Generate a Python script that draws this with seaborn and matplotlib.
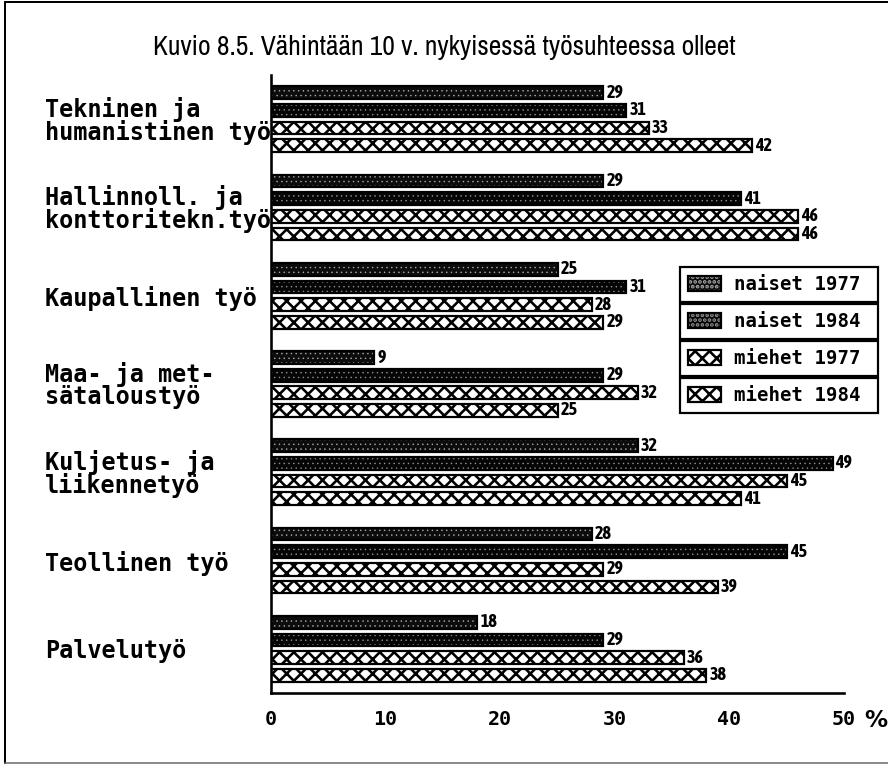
import matplotlib
matplotlib.use("Agg")
import matplotlib.pyplot as plt
import seaborn as sns
import pandas as pd
from matplotlib import font_manager
from matplotlib.patches import Patch
from matplotlib.lines import Line2D
from matplotlib.colors import to_rgba

# ---------------- data ----------------
categories = [
    "Tekninen ja\nhumanistinen työ",
    "Hallinnoll. ja\nkonttoritekn.työ",
    "Kaupallinen työ",
    "Maa- ja met-\nsätaloustyö",
    "Kuljetus- ja\nliikennetyö",
    "Teollinen työ",
    "Palvelutyö",
]
series = ["naiset 1977", "naiset 1984", "miehet 1977", "miehet 1984"]
naiset_1977 = [29, 29, 25, 9, 32, 28, 18]
naiset_1984 = [31, 41, 31, 29, 49, 45, 29]
miehet_1977 = [33, 46, 28, 32, 45, 29, 36]
miehet_1984 = [42, 46, 29, 25, 41, 39, 38]
x_ticks = [0, 10, 20, 30, 40, 50]
title = "Kuvio 8.5. Vähintään 10 v. nykyisessä työsuhteessa olleet"
unit_label = "%"

values = {
    "naiset 1977": naiset_1977,
    "naiset 1984": naiset_1984,
    "miehet 1977": miehet_1977,
    "miehet 1984": miehet_1984,
}
rows = []
for s in series:
    for c, v in zip(categories, values[s]):
        rows.append({"category": c, "series": s, "value": v})
df = pd.DataFrame(rows)

# ---------------- style ----------------
W, H, DPI = 888, 765, 86
def pt(px):
    return px * 72.0 / DPI

sns.set_theme(style="white")
plt.rcParams["font.family"] = ["DejaVu Sans"]
for k in ("text.color", "axes.labelcolor", "xtick.color", "ytick.color"):
    plt.rcParams[k] = "black"

# look for a condensed / narrow family (prefer one with a bold face)
narrow_fonts = [f for f in font_manager.fontManager.ttflist
                if "Narrow" in f.name or "Condensed" in f.name]
narrow_name = None
narrow_bold_name = None
for f in sorted(narrow_fonts, key=lambda f: f.name):
    if narrow_name is None:
        narrow_name = f.name
    w = f.weight if isinstance(f.weight, int) else (700 if "bold" in str(f.weight).lower() else 400)
    if w >= 700 and narrow_bold_name is None:
        narrow_bold_name = f.name
if narrow_name:
    narrow = [narrow_name, "DejaVu Sans"]
    title_px = 27.5
else:
    narrow = ["DejaVu Sans"]
    title_px = 21
if narrow_bold_name:
    narrow_b = [narrow_bold_name, "DejaVu Sans"]
    val_px = 18
else:
    narrow_b = ["DejaVu Sans"]
    val_px = 14

styles = {
    "naiset 1977": dict(face="#0c0c0c", hatch="...", hcolor="#a8a8a8", hlw=0.5),
    "naiset 1984": dict(face="#050505", hatch="...", hcolor="#909090", hlw=0.5),
    "miehet 1977": dict(face="white", hatch="xx", hcolor="black", hlw=pt(2.6)),
    "miehet 1984": dict(face="white", hatch="xx", hcolor="black", hlw=pt(2.6)),
}
plt.rcParams["hatch.linewidth"] = pt(2.6)

def style_patch(p, st):
    p.set_facecolor(st["face"])
    p.set_edgecolor("black")
    p.set_linewidth(pt(2.2))
    p.set_hatch(st["hatch"])
    p._hatch_color = to_rgba(st["hcolor"])
    if hasattr(p, "set_hatch_linewidth"):
        p.set_hatch_linewidth(st["hlw"])

fig = plt.figure(figsize=(W / DPI, H / DPI), dpi=DPI)
fig.patch.set_facecolor("white")
ax = fig.add_axes([271 / W, 1 - 693 / H, (844 - 271) / W, (693 - 75) / H])

sns.barplot(
    data=df, y="category", x="value", hue="series", orient="h",
    order=categories, hue_order=series, palette=["black"] * 4,
    saturation=1, width=0.8, gap=0.28, legend=False, ax=ax,
)

for cont, s in zip(ax.containers, series):
    for p in cont:
        style_patch(p, styles[s])
    ax.bar_label(cont, labels=[f"{v:.0f}" for v in cont.datavalues],
                 padding=pt(3), fontsize=pt(val_px), fontweight="bold",
                 family=narrow_b, color="black")

ax.set_xlim(0, 50)
ax.set_xticks(x_ticks)
ax.set_xlabel("")
ax.set_ylabel("")
sns.despine(ax=ax)
for side in ("left", "bottom"):
    ax.spines[side].set_linewidth(pt(2.6))
    ax.spines[side].set_color("black")

ax.tick_params(axis="x", direction="out", length=pt(11), width=pt(2.4),
               color="black", pad=pt(6), labelsize=pt(20))
for lab in ax.get_xticklabels():
    lab.set_family("DejaVu Sans Mono")
    lab.set_fontweight("bold")

ax.tick_params(axis="y", length=0, pad=pt(226), labelsize=pt(23.5))
for lab in ax.get_yticklabels():
    lab.set_family("DejaVu Sans Mono")
    lab.set_fontweight("bold")
    lab.set_horizontalalignment("left")
    lab.set_multialignment("left")
    lab.set_linespacing(0.92)

fig.text(876 / W, 1 - 720 / H, unit_label, ha="center", va="center",
         fontsize=pt(23), fontweight="bold")

fig.text(444 / W, 1 - 47 / H, title, ha="center", va="center",
         fontsize=pt(title_px), family=narrow)

# ---------------- legend: four stacked boxes ----------------
box_top, box_h = 266, 37
for i, s in enumerate(series):
    st = styles[s]
    h = Patch(facecolor=st["face"], edgecolor="black", hatch=st["hatch"],
              linewidth=pt(2.2))
    h._hatch_color = to_rgba(st["hcolor"])
    if hasattr(h, "set_hatch_linewidth"):
        h.set_hatch_linewidth(st["hlw"])
    y0 = 1 - (box_top + box_h * (i + 1)) / H
    leg = fig.legend(
        handles=[h], labels=[s], loc="center left",
        bbox_to_anchor=(680 / W, y0, (878 - 680) / W, box_h / H),
        mode="expand", borderaxespad=0, frameon=True, fancybox=False,
        edgecolor="black", framealpha=1, borderpad=0.42,
        handlelength=1.75, handleheight=0.9, handletextpad=0.65,
        prop={"family": "DejaVu Sans Mono", "weight": "bold", "size": pt(19)},
    )
    leg.get_frame().set_linewidth(pt(2.2))

# ---------------- outer frame ----------------
fig.add_artist(Line2D([5 / W, 5 / W], [1 - 2 / H, 1 - 763 / H], color="black", lw=pt(2)))
fig.add_artist(Line2D([5 / W, 1], [1 - 2 / H, 1 - 2 / H], color="black", lw=pt(2)))
fig.add_artist(Line2D([5 / W, 1], [1 - 763 / H, 1 - 763 / H], color="#666666", lw=pt(1.5)))

fig.savefig("out.png", dpi=DPI, facecolor="white")
